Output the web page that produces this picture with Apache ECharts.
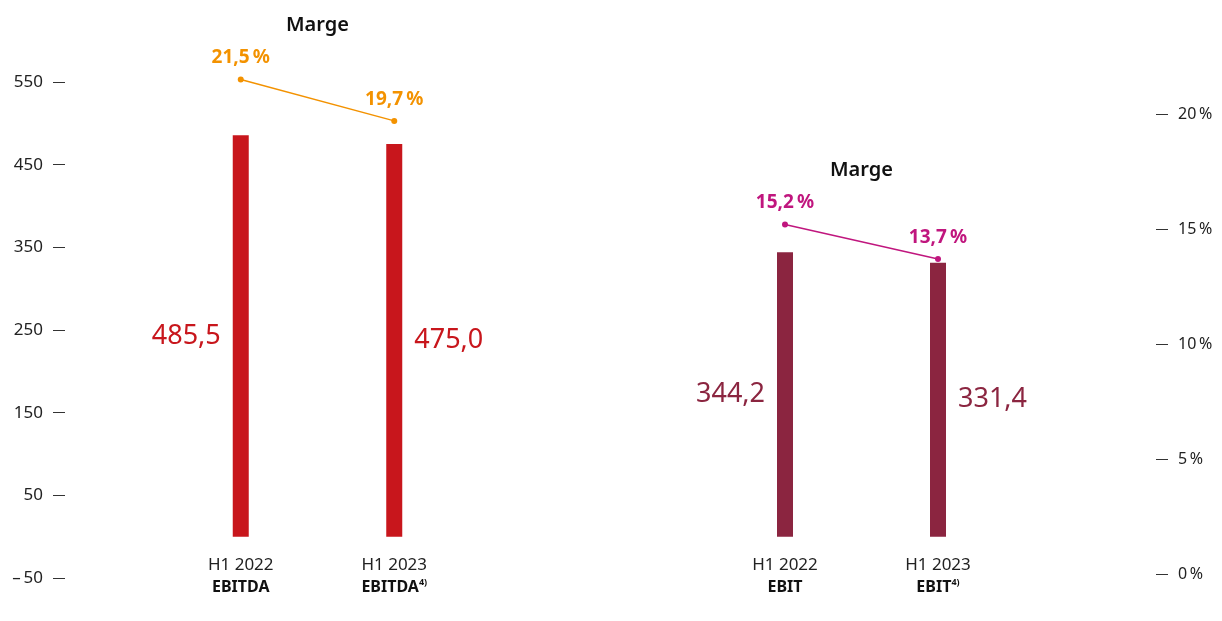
<!DOCTYPE html>
<html><head><meta charset="utf-8">
<script src="https://cdn.jsdelivr.net/npm/echarts@6/dist/echarts.min.js"></script>
<style>html,body{margin:0;padding:0;background:#fff}#c{width:1222px;height:621px}</style>
</head><body><div id="c"></div>
<script>
const periods = ['H1 2022', 'H1 2023'];
const ebitdaNames = ['EBITDA', 'EBITDA'];
const ebitNames = ['EBIT', 'EBIT'];
const footnotes = ['', '4)'];
const ebitda = [485.5, 475.0];
const ebit = [344.2, 331.4];
const ebitdaMargin = [21.5, 19.7];
const ebitMargin = [15.2, 13.7];
const leftAxis = { min: -50, max: 550, interval: 100 };
const rightAxis = { min: 0, max: 20, interval: 5 };
const marginTitle = 'Marge';

const FONT = '"Noto Sans", "Open Sans", sans-serif';
const RED = '#c8161c', MAROON = '#8b2540', ORANGE = '#f39200', MAGENTA = '#c0167e';
const de = v => v.toFixed(1).replace('.', ',');

function cats(names) {
  return names.map((n, i) => ({ value: periods[i] + '|' + n + '|' + footnotes[i] }));
}
const catLabel = {
  interval: 0, margin: 16, lineHeight: 22, fontFamily: FONT,
  formatter: v => { const p = v.split('|'); return '{n|' + p[0] + '}\n{b|' + p[1] + '}' + (p[2] ? '{s|' + p[2] + '}' : ''); },
  rich: {
    n: { fontSize: 17, color: '#222', fontFamily: FONT, lineHeight: 22 },
    b: { fontSize: 16, color: '#111', fontWeight: 'bold', fontFamily: FONT, lineHeight: 22 },
    s: { fontSize: 9, color: '#111', fontWeight: 'bold', fontFamily: FONT, padding: [0, 0, 10, 0] }
  }
};
const hiddenX = d => ({ type: 'category', data: d, show: false });
const G = { containLabel: false, outerBoundsMode: 'none' };

const gridBarsA = Object.assign({ left: 164, width: 307, top: 82, bottom: 43 }, G);
const gridLineA = Object.assign({ left: 164, width: 307, top: 114, bottom: 47 }, G);
const gridBarsB = Object.assign({ left: 708.5, width: 306, top: 82, bottom: 43 }, G);
const gridLineB = Object.assign({ left: 708.5, width: 306, top: 114, bottom: 47 }, G);

const chart = echarts.init(document.getElementById('c'), null, { renderer: 'canvas' });
chart.setOption({
  animation: false,
  backgroundColor: '#fff',
  grid: [gridBarsA, gridLineA, gridBarsB, gridLineB],
  xAxis: [
    { gridIndex: 0, type: 'category', data: cats(ebitdaNames), offset: -40, axisLine: { show: false, onZero: false }, axisTick: { show: false }, axisLabel: catLabel },
    Object.assign({ gridIndex: 1 }, hiddenX(periods)),
    { gridIndex: 2, type: 'category', data: cats(ebitNames), offset: -40, axisLine: { show: false, onZero: false }, axisTick: { show: false }, axisLabel: catLabel },
    Object.assign({ gridIndex: 3 }, hiddenX(periods))
  ],
  yAxis: [
    { gridIndex: 0, type: 'value', position: 'left', offset: 99, min: leftAxis.min, max: leftAxis.max, interval: leftAxis.interval,
      axisLine: { show: false }, splitLine: { show: false },
      axisTick: { show: true, length: 12, lineStyle: { color: '#333', width: 1 } },
      axisLabel: { margin: 22, fontSize: 17, color: '#222', fontFamily: FONT,
        formatter: v => v < 0 ? '\u2013\u2009' + Math.abs(v) : String(v) } },
    { gridIndex: 1, type: 'value', min: rightAxis.min, max: rightAxis.max, interval: rightAxis.interval, show: false },
    { gridIndex: 2, type: 'value', min: leftAxis.min, max: leftAxis.max, interval: leftAxis.interval, show: false },
    { gridIndex: 3, type: 'value', position: 'right', offset: 141.5, min: rightAxis.min, max: rightAxis.max, interval: rightAxis.interval,
      axisLine: { show: false }, splitLine: { show: false },
      axisTick: { show: true, length: 12, lineStyle: { color: '#333', width: 1 } },
      axisLabel: { margin: 22, fontSize: 16, color: '#222', fontFamily: FONT, formatter: v => v + '\u2009%' } }
  ],
  series: [
    { type: 'bar', xAxisIndex: 0, yAxisIndex: 0, barWidth: 16, itemStyle: { color: RED },
      data: ebitda.map((v, i) => ({ value: v, label: { position: i === 0 ? 'left' : 'right' } })),
      label: { show: true, distance: 12, color: RED, fontSize: 27, fontFamily: FONT, formatter: p => de(p.value) } },
    { type: 'line', xAxisIndex: 1, yAxisIndex: 1, data: ebitdaMargin, clip: false, symbol: 'circle', symbolSize: 6,
      lineStyle: { color: ORANGE, width: 1.5 }, itemStyle: { color: ORANGE },
      label: { show: true, position: 'top', distance: 9, color: ORANGE, fontSize: 19, fontWeight: 'bold', fontFamily: FONT,
        formatter: p => de(p.value) + '\u2009%' } },
    { type: 'bar', xAxisIndex: 2, yAxisIndex: 2, barWidth: 16, itemStyle: { color: MAROON },
      data: ebit.map((v, i) => ({ value: v, label: { position: i === 0 ? 'left' : 'right' } })),
      label: { show: true, distance: 12, color: MAROON, fontSize: 27, fontFamily: FONT, formatter: p => de(p.value) } },
    { type: 'line', xAxisIndex: 3, yAxisIndex: 3, data: ebitMargin, clip: false, symbol: 'circle', symbolSize: 6,
      lineStyle: { color: MAGENTA, width: 1.5 }, itemStyle: { color: MAGENTA },
      label: { show: true, position: 'top', distance: 9, color: MAGENTA, fontSize: 19, fontWeight: 'bold', fontFamily: FONT,
        formatter: p => de(p.value) + '\u2009%' } }
  ],
  graphic: [
    { type: 'text', x: 317.5, y: 25, style: { text: marginTitle, textAlign: 'center', textVerticalAlign: 'middle', fontSize: 20, fontWeight: 600, fill: '#111', fontFamily: FONT } },
    { type: 'text', x: 861.5, y: 170, style: { text: marginTitle, textAlign: 'center', textVerticalAlign: 'middle', fontSize: 20, fontWeight: 600, fill: '#111', fontFamily: FONT } }
  ]
});
</script></body></html>
